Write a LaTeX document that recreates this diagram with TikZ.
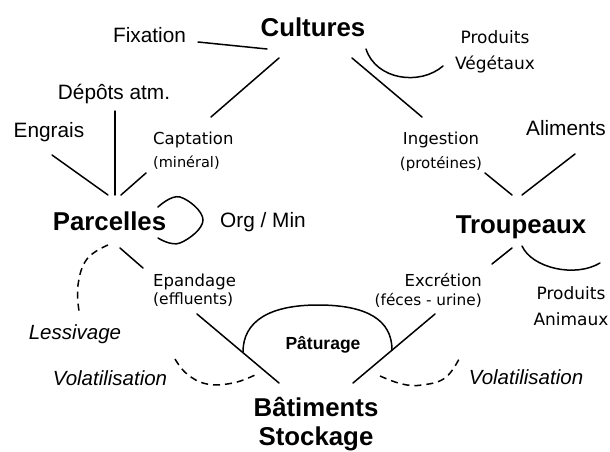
\documentclass[tikz,border=0pt]{standalone}
\usepackage{fontspec}
\setmainfont{Liberation Sans}
\newfontfamily\comicf{DejaVu Sans}
\begin{document}
\begin{tikzpicture}[x=1pt,y=-1pt,
  lbl/.style={inner sep=0pt, anchor=base, font=\fontsize{20.8}{25}\selectfont},
  big/.style={inner sep=0pt, anchor=base, font=\fontsize{25.8}{31}\bfseries\selectfont},
  ital/.style={inner sep=0pt, anchor=base, font=\fontsize{20.5}{25}\itshape\selectfont},
  hand/.style={inner sep=0pt, anchor=base, font=\fontsize{16.5}{24}\comicf\selectfont},
  prod/.style={inner sep=0pt, anchor=base, align=center, font=\fontsize{17}{26}\comicf\selectfont},
  flow/.style={line width=1.5pt, line cap=round},
  dashflow/.style={line width=1.5pt, dash pattern=on 7pt off 5pt}]
\useasboundingbox (0,0) rectangle (610,452);
% nodes (multi-line nodes are placed at the baseline of their last line)
\node[big] (cul) at (313,37) {Cultures};
\node[big] (par) at (109.5,230) {Parcelles};
\node[big] (tro) at (521,233) {Troupeaux};
\node[big, align=center, font=\fontsize{25.8}{29}\bfseries\selectfont] (bat) at (316,445.5) {Bâtiments\\Stockage};
\node[lbl] (fix) at (149.5,43) {Fixation};
\node[lbl] (dep) at (114,99) {Dépôts atm.};
\node[lbl] (eng) at (49,137) {Engrais};
\node[lbl] (ali) at (566,135) {Aliments};
\node[lbl] (org) at (263,227) {Org / Min};
\node[ital] (les) at (75,339) {Lessivage};
\node[ital] (vol1) at (110,385) {Volatilisation};
\node[ital] (vol2) at (526,384) {Volatilisation};
\node[inner sep=0pt, anchor=base, font=\fontsize{17.5}{20}\bfseries\selectfont] (pat) at (323,349) {Pâturage};
\node[hand, align=left, anchor=base west] (cap) at (153,167) {Captation\\[-1pt]{\fontsize{14.5}{17}\selectfont(minéral)}};
\node[hand, align=center] (ing) at (441,168) {Ingestion\\[0pt]{\fontsize{15}{17}\selectfont(protéines)}};
\node[hand, align=left, anchor=base west] (epa) at (153,304) {Epandage\\[-6pt]{\fontsize{15.5}{17}\selectfont(effluents)}};
\node[hand, align=right, anchor=base east] (exc) at (482,305) {Excrétion\\[-5pt]{\fontsize{15.3}{17}\selectfont(féces - urine)}};
\node[prod] (pv) at (495,70) {Produits\\Végétaux};
\node[prod] (pa) at (571,325) {Produits\\Animaux};
% connector ends
\coordinate (fixA) at (198,42);  \coordinate (fixB) at (267,49);
\coordinate (culA) at (279,58);  \coordinate (capA) at (211,117);
\coordinate (culB) at (352,58);  \coordinate (ingA) at (422,117);
\coordinate (depA) at (115,111); \coordinate (parA) at (115,195);
\coordinate (engA) at (52,155);  \coordinate (parB) at (108,195);
\coordinate (capB) at (146,173); \coordinate (parC) at (121,195);
\coordinate (ingB) at (485,173); \coordinate (troA) at (512,195);
\coordinate (aliA) at (575,154); \coordinate (troB) at (522,195);
\coordinate (troC) at (512,248); \coordinate (excA) at (492,264);
\coordinate (excB) at (435,314); \coordinate (batA) at (353,383);
\coordinate (parD) at (120,248); \coordinate (epaA) at (143,268);
\coordinate (epaB) at (197,314); \coordinate (batB) at (279,383);
% straight connectors
\draw[flow] (fixA) -- (fixB);
\draw[flow] (culA) -- (capA);
\draw[flow] (culB) -- (ingA);
\draw[flow] (depA) -- (parA);
\draw[flow] (engA) -- (parB);
\draw[flow] (capB) -- (parC);
\draw[flow] (ingB) -- (troA);
\draw[flow] (aliA) -- (troB);
\draw[flow] (troC) -- (excA);
\draw[flow] (excB) -- (batA);
\draw[flow] (parD) -- (epaA);
\draw[flow] (epaB) -- (batB);
% curves
\draw[flow] (366,49) .. controls (376,80) and (420,86) .. (443,66);
\draw[flow] (522,246) .. controls (532,268) and (575,278) .. (600,263);
\draw[flow] plot[smooth, tension=0.7] coordinates {(158,207) (180,197) (203,220) (180,243) (158,238)};
\draw[flow] (243,352) .. controls (243,321.5) and (269,305) .. (318,305)
            .. controls (367,305) and (392,320) .. (392,350);
\draw[dashflow] plot[smooth, tension=0.7] coordinates {(108,245) (87,259) (78,285) (79,311)};
\draw[dashflow] plot[smooth, tension=0.7] coordinates {(175,359) (187,374) (207,384) (233,383) (255,375)};
\draw[dashflow] plot[smooth, tension=0.7] coordinates {(380,376) (402,384) (422,385) (445,378) (459,359)};
\end{tikzpicture}
\end{document}
